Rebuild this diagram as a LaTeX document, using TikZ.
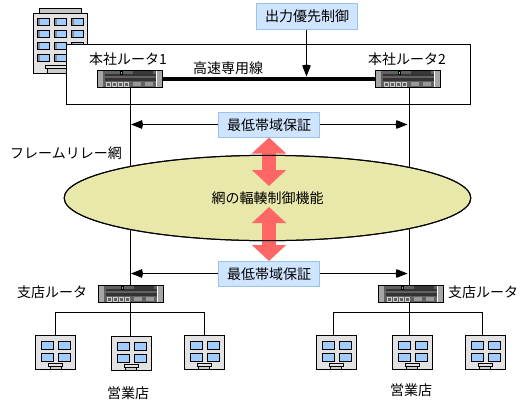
\documentclass[tikz,border=0pt]{standalone}
\usepackage{fontspec}
\setmainfont{Noto Sans CJK JP}
\usetikzlibrary{arrows.meta,shapes.geometric}
\definecolor{figbox}{RGB}{207,229,255}
\definecolor{figboxline}{RGB}{150,195,240}
\definecolor{figcloud}{RGB}{232,232,170}
\definecolor{figred}{RGB}{255,102,102}
\definecolor{figwall}{RGB}{226,226,226}
\definecolor{figglass}{RGB}{160,204,255}
\definecolor{figled}{RGB}{120,220,120}
\tikzset{
  ln/.style    ={draw=black, line width=0.75pt},
  lab/.style   ={font=\fontsize{10.5}{12}\selectfont, inner sep=0pt},
  ctrl/.style  ={lab, draw=figboxline, fill=figbox, line width=0.75pt, minimum width=75.75pt, minimum height=18.75pt},
  rtr/.style   ={draw=black, line width=0.75pt, fill=black!62, minimum width=48.75pt, minimum height=12.75pt, inner sep=0pt},
  ptr/.style   ={ln, -{Kite[length=9pt,width=6.5pt,inset=0.8pt]}},
  fat/.style   ={draw=figred, line width=11pt, {Triangle[length=12pt,width=25pt]}-{Triangle[length=12pt,width=25pt]}},
  wall/.style  ={draw=black, line width=0.75pt, fill=figwall},
  glass/.style ={draw=black, line width=0.75pt, fill=figglass},
  rim/.style   ={ellipse, draw=black, line width=0.75pt, minimum width=305pt, minimum height=64pt, inner sep=0pt},
}
% router face, drawn on top of the named node
\newcommand{\rtrface}[1]{
  \begin{scope}[shift={(#1.center)}]
    \fill[black!35] (-32,-8) rectangle (-27,8);
    \fill[black!35] (27,-8) rectangle (32,8);
    \fill[white] (26,-8) rectangle (27,8);
    \fill[black!80] (-25,-5) rectangle (26,-3);
    \fill[black!80] (-25,-0.7) rectangle (26,2);
    \fill[black!78] (3,-8) rectangle (23,-5.5);
    \fill[black] (-10.5,-8) rectangle (-7,-4.5);
    \fill[figled] (-9.5,-7) rectangle (-8,-5.5);
    \foreach \kx in {-24,-18,-12,-6}
      \draw[white!80!black, line width=0.6pt] (\kx,3) rectangle ++(4,4);
    \fill[black!40] (3.3,3) rectangle (11,7);
    \fill[black!40] (15,3) rectangle (23.3,7);
  \end{scope}
}
% office block with 2x2 windows
\newcommand{\office}[2]{
  \node[wall, minimum width=30pt, minimum height=25.5pt, inner sep=0pt] (#2) at #1 {};
  \begin{scope}[shift={(#2.center)}]
    \foreach \kx in {-14,3}
      \foreach \ky in {-10.5,1.5}
        \draw[glass] (\kx,\ky) rectangle ++(12,7.5);
    \draw[wall,fill=black!20] (-5.5,13) rectangle (5.5,17);
    \draw[wall] (-7,11.5) rectangle (7,14);
  \end{scope}
}
\begin{document}
\begin{tikzpicture}[x=0.75pt,y=-0.75pt]
  \useasboundingbox (0,0) rectangle (527,411);
  % head office building
  \draw[wall,fill=black!22] (39.5,8.5) rectangle (81.5,13.5);
  \draw[wall] (33.5,13.5) rectangle (87.5,73.5);
  \foreach \kx in {37.5,54.5,71.5}
    \foreach \ky in {18.5,30.5,42.5,54.5}{
      \draw[glass] (\kx,\ky) rectangle ++(12,7);
      \fill[black!45] (\kx+0.5,\ky+0.5) rectangle ++(1.5,6);
    }
  \draw[wall,fill=black!20] (47.5,67.5) rectangle (72,73.5);
  \draw[wall] (45.5,65.5) rectangle (74,68.5);
  \draw[ln,fill=white] (66.5,44.5) rectangle (470.5,104.5);

  \node[ctrl, minimum height=19.5pt] (prio) at (307,16.5) {出力優先制御};
  \node[rtr] (hqa) at (130,79) {};
  \node[rtr] (hqb) at (408,79) {};
  \node[rtr] (bra) at (131,294) {};
  \node[rtr] (brb) at (411,294) {};
  \coordinate (hqa0) at (130.5,87.5);
  \coordinate (hqb0) at (409.5,87.5);
  \coordinate (bra0) at (130.5,285.5);
  \coordinate (brb0) at (409.5,285.5);

  % uplinks, the cloud goes over them
  \draw[ln] (hqa0) -- (bra0);
  \draw[ln] (hqb0) -- (brb0);
  \node[rim, fill=figcloud] (net) at (267.5,198) {};
  \node[lab] at (net.center) {網の輻輳制御機能};

  \draw[line width=3.3pt] (hqa.east) -- (hqb.west);
  \rtrface{hqa}
  \rtrface{hqb}
  \rtrface{bra}
  \rtrface{brb}
  \node[lab] at (128,59) {本社ルータ1};
  \node[lab] at (407,59) {本社ルータ2};
  \node[lab] at (228,68) {高速専用線};
  \coordinate (prioend) at (306.5,76.5);
  \draw[ptr] (prio.south -| prioend) -- (prioend);

  \node[ctrl] (bwa) at (269,125) {最低帯域保証};
  \node[ctrl] (bwb) at (269,274) {最低帯域保証};
  \coordinate (bwal) at (131,124.5);
  \coordinate (bwar) at (407.5,124.5);
  \coordinate (bwbl) at (131,273.5);
  \coordinate (bwbr) at (407.5,273.5);
  \draw[ptr] (bwa.west |- bwal) -- (bwal);
  \draw[ptr] (bwa.east |- bwar) -- (bwar);
  \draw[ptr] (bwb.west |- bwbl) -- (bwbl);
  \draw[ptr] (bwb.east |- bwbr) -- (bwbr);

  \coordinate (fata) at (269,137.5);
  \coordinate (fatb) at (269,186);
  \coordinate (fatc) at (269,207);
  \coordinate (fatd) at (269,261);
  \draw[fat] (fata) -- (fatb);
  \draw[fat] (fatc) -- (fatd);
  \node[rim] (netrim) at (net.center) {};

  \node[lab] at (66,153) {フレームリレー網};
  \node[lab] at (52,292) {支店ルータ};
  \node[lab] at (483,292) {支店ルータ};

  % branch offices
  \office{(55.5,352)}{ofa}
  \office{(131,353)}{ofb}
  \office{(204,352)}{ofc}
  \office{(336,352)}{ofd}
  \office{(412,352)}{ofe}
  \office{(485,352)}{off}
  \coordinate (busa) at (130.5,312.5);
  \coordinate (busal) at (55.5,312.5);
  \coordinate (busar) at (204.5,312.5);
  \coordinate (busb) at (409.5,312.5);
  \coordinate (busbl) at (333.5,312.5);
  \coordinate (busbr) at (482.5,312.5);
  \draw[ln] (bra.south -| busa) -- (ofb.north -| busa);
  \draw[ln] (ofa.north -| busal) -- (busal) -- (busar) -- (ofc.north -| busar);
  \draw[ln] (brb.south -| busb) -- (ofe.north -| busb);
  \draw[ln] (ofd.north -| busbl) -- (busbl) -- (busbr) -- (off.north -| busbr);
  \node[lab] at (128,393) {営業店};
  \node[lab] at (411,390) {営業店};
\end{tikzpicture}
\end{document}
